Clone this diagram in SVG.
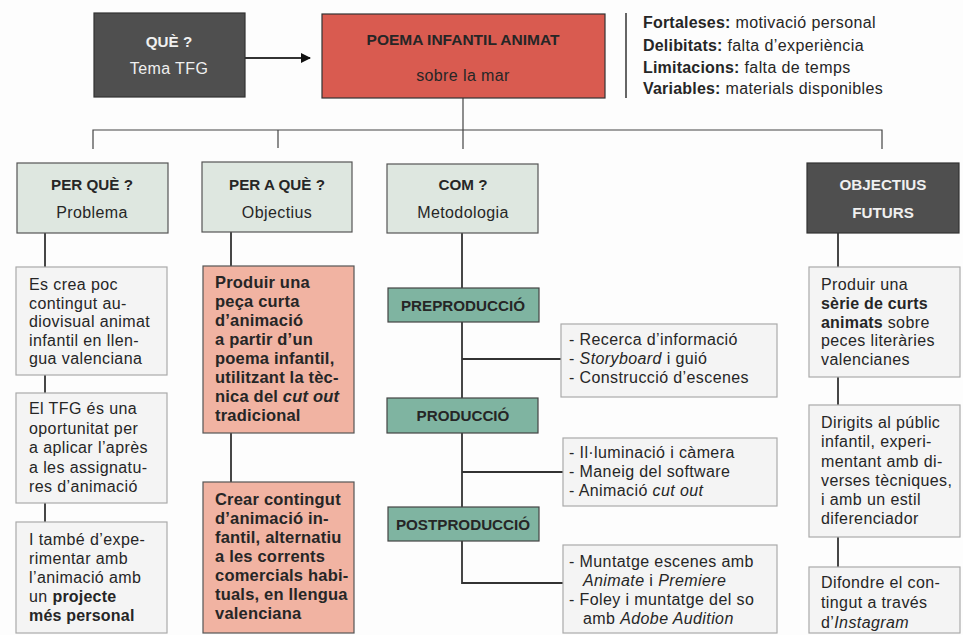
<svg xmlns="http://www.w3.org/2000/svg" width="963" height="635" viewBox="0 0 963 635">
<defs>
<marker id="arr" markerWidth="10" markerHeight="10" refX="9" refY="5" orient="auto" markerUnits="userSpaceOnUse">
<path d="M0,0 L10,5 L0,10 z" fill="#111"/>
</marker>
<style>
text{font-family:"Liberation Sans",Arial,sans-serif;font-size:16px;letter-spacing:0.4px;fill:#262626}
.b{font-weight:bold;letter-spacing:0.2px}
.bb{font-weight:bold;font-size:16.5px;letter-spacing:0.2px}
.h{font-size:15.2px;letter-spacing:0}
.i{font-style:italic}
.c{text-anchor:middle}
.w{fill:#f0f0f0}
.dark{fill:#4f4f4f;stroke:#333;stroke-width:1.2}
.red{fill:#d95b50;stroke:#333;stroke-width:1.2}
.hdr{fill:#dee7e0;stroke:#555;stroke-width:1.2}
.teal{fill:#7fb4a1;stroke:#444;stroke-width:1.2}
.sal{fill:#f1b3a2;stroke:#555;stroke-width:1.2}
.gry{fill:#f4f4f4;stroke:#aaa;stroke-width:1.2}
.ln{stroke:#333;stroke-width:1.8;fill:none}
.lt{stroke:#444;stroke-width:1.2;fill:none}
</style>
</defs>
<rect width="963" height="635" fill="#fdfdfd"/>
<g id="connectors">
<line class="ln" x1="245" y1="58" x2="310" y2="58" marker-end="url(#arr)"/>
<line class="lt" x1="463" y1="98" x2="463" y2="149"/>
<polyline class="lt" points="93,149 93,130 882,130 882,149"/>
<line class="lt" x1="278" y1="130" x2="278" y2="148"/>
<line class="ln" x1="45" y1="233" x2="45" y2="267"/>
<line class="ln" x1="45" y1="375" x2="45" y2="393"/>
<line class="ln" x1="45" y1="503" x2="45" y2="522"/>
<line class="ln" x1="231" y1="232" x2="231" y2="266"/>
<line class="ln" x1="231" y1="433" x2="231" y2="482"/>
<line class="ln" x1="462" y1="233" x2="462" y2="288"/>
<line class="ln" x1="462" y1="322" x2="462" y2="398"/>
<line class="ln" x1="462" y1="359" x2="561" y2="359"/>
<line class="ln" x1="462" y1="433" x2="462" y2="507"/>
<line class="ln" x1="462" y1="472" x2="563" y2="472"/>
<polyline class="ln" points="462,541 462,583 563,583"/>
<line class="ln" x1="838" y1="233" x2="838" y2="267"/>
<line class="ln" x1="838" y1="377" x2="838" y2="405"/>
<line class="ln" x1="838" y1="537" x2="838" y2="567"/>
<line x1="626" y1="13" x2="626" y2="98" stroke="#333" stroke-width="1.5"/>
</g>
<g id="que">
<rect class="dark" x="94" y="13" width="151" height="84"/>
<text class="b h c w" x="169" y="47">QUÈ ?</text>
<text class="c w" x="169" y="74">Tema TFG</text>
</g>
<g id="poema">
<rect class="red" x="322" y="14" width="283" height="84"/>
<text class="b c" x="463" y="45" fill="#1a1a1a" style="font-size:15.5px;letter-spacing:0">POEMA INFANTIL ANIMAT</text>
<text class="c" x="463" y="81">sobre la mar</text>
</g>
<g id="dafo">
<text x="643" y="28"><tspan class="b">Fortaleses:</tspan> motivació personal</text>
<text x="643" y="51"><tspan class="b">Delibitats:</tspan> falta d’experiència</text>
<text x="643" y="73"><tspan class="b">Limitacions:</tspan> falta de temps</text>
<text x="643" y="94"><tspan class="b">Variables:</tspan> materials disponibles</text>
</g>
<g id="perque">
<rect class="hdr" x="17" y="163" width="151" height="70"/>
<text class="b h c" x="92" y="190">PER QUÈ ?</text>
<text class="c" x="92" y="218">Problema</text>
</g>
<g id="peraque">
<rect class="hdr" x="202" y="162" width="150" height="70"/>
<text class="b h c" x="277" y="190">PER A QUÈ ?</text>
<text class="c" x="277" y="218">Objectius</text>
</g>
<g id="com">
<rect class="hdr" x="387" y="164" width="151" height="69"/>
<text class="b h c" x="463" y="190">COM ?</text>
<text class="c" x="463" y="218">Metodologia</text>
</g>
<g id="futurs">
<rect class="dark" x="807" y="163" width="152" height="70"/>
<text class="b h c w" x="883" y="190">OBJECTIUS</text>
<text class="b h c w" x="883" y="218">FUTURS</text>
</g>
<g id="problema1">
<rect class="gry" x="16" y="267" width="151" height="108"/>
<text x="29" y="290">Es crea poc</text>
<text x="29" y="308.6">contingut au-</text>
<text x="29" y="327.2">diovisual animat</text>
<text x="29" y="345.8">infantil en llen-</text>
<text x="29" y="364.4">gua valenciana</text>
</g>
<g id="problema2">
<rect class="gry" x="16" y="393" width="151" height="110"/>
<text x="29" y="414">El TFG és una</text>
<text x="29" y="433.5">oportunitat per</text>
<text x="29" y="453">a aplicar l’après</text>
<text x="29" y="472.5">a les assignatu-</text>
<text x="29" y="492">res d’animació</text>
</g>
<g id="problema3">
<rect class="gry" x="16" y="522" width="151" height="111"/>
<text x="29" y="545">I també d’expe-</text>
<text x="29" y="564">rimentar amb</text>
<text x="29" y="583">l’animació amb</text>
<text x="29" y="602">un <tspan class="b">projecte</tspan></text>
<text x="29" y="621" class="b">més personal</text>
</g>
<g id="objectiu1">
<rect class="sal" x="203" y="266" width="151" height="167"/>
<text x="215" y="288" class="bb">Produir una</text>
<text x="215" y="307" class="bb">peça curta</text>
<text x="215" y="326" class="bb">d’animació</text>
<text x="215" y="345" class="bb">a partir d’un</text>
<text x="215" y="364" class="bb">poema infantil,</text>
<text x="215" y="383" class="bb">utilitzant la tèc-</text>
<text x="215" y="402" class="bb">nica del <tspan class="i">cut out</tspan></text>
<text x="215" y="421" class="bb">tradicional</text>
</g>
<g id="objectiu2">
<rect class="sal" x="203" y="482" width="151" height="151"/>
<text x="215" y="505" class="bb">Crear contingut</text>
<text x="215" y="524" class="bb">d’animació in-</text>
<text x="215" y="543" class="bb">fantil, alternatiu</text>
<text x="215" y="562" class="bb">a les corrents</text>
<text x="215" y="581" class="bb">comercials habi-</text>
<text x="215" y="600" class="bb">tuals, en llengua</text>
<text x="215" y="619" class="bb">valenciana</text>
</g>
<g id="preproduccio">
<rect class="teal" x="388" y="288" width="151" height="34"/>
<text class="b h c" x="463" y="311">PREPRODUCCIÓ</text>
</g>
<g id="preproduccio-detall">
<rect class="gry" x="561" y="324" width="216" height="73"/>
<text x="569" y="345">- Recerca d’informació</text>
<text x="569" y="364">- <tspan class="i">Storyboard</tspan> i guió</text>
<text x="569" y="383">- Construcció d’escenes</text>
</g>
<g id="produccio">
<rect class="teal" x="387" y="398" width="151" height="35"/>
<text class="b h c" x="463" y="421">PRODUCCIÓ</text>
</g>
<g id="produccio-detall">
<rect class="gry" x="563" y="438" width="214" height="68"/>
<text x="569" y="458">- Il·luminació i càmera</text>
<text x="569" y="477">- Maneig del software</text>
<text x="569" y="496">- Animació <tspan class="i">cut out</tspan></text>
</g>
<g id="postproduccio">
<rect class="teal" x="388" y="507" width="151" height="34"/>
<text class="b h c" x="463" y="530">POSTPRODUCCIÓ</text>
</g>
<g id="postproduccio-detall">
<rect class="gry" x="563" y="545" width="214" height="88"/>
<text x="569" y="567">- Muntatge escenes amb</text>
<text x="583" y="586"><tspan class="i">Animate</tspan> i <tspan class="i">Premiere</tspan></text>
<text x="569" y="605">- Foley i muntatge del so</text>
<text x="583" y="624">amb <tspan class="i">Adobe Audition</tspan></text>
</g>
<g id="futur1">
<rect class="gry" x="809" y="267" width="151" height="110"/>
<text x="821" y="290">Produir una</text>
<text x="821" y="308.8" class="b">sèrie de curts</text>
<text x="821" y="327.6"><tspan class="b">animats</tspan> sobre</text>
<text x="821" y="346.4">peces literàries</text>
<text x="821" y="365.2">valencianes</text>
</g>
<g id="futur2">
<rect class="gry" x="809" y="405" width="151" height="132"/>
<text x="821" y="428">Dirigits al públic</text>
<text x="821" y="447">infantil, experi-</text>
<text x="821" y="466.5">mentant amb di-</text>
<text x="821" y="486">verses tècniques,</text>
<text x="821" y="505">i amb un estil</text>
<text x="821" y="523.5">diferenciador</text>
</g>
<g id="futur3">
<rect class="gry" x="809" y="567" width="151" height="66"/>
<text x="821" y="588">Difondre el con-</text>
<text x="821" y="608">tingut a través</text>
<text x="821" y="628">d’<tspan class="i">Instagram</tspan></text>
</g>
</svg>
